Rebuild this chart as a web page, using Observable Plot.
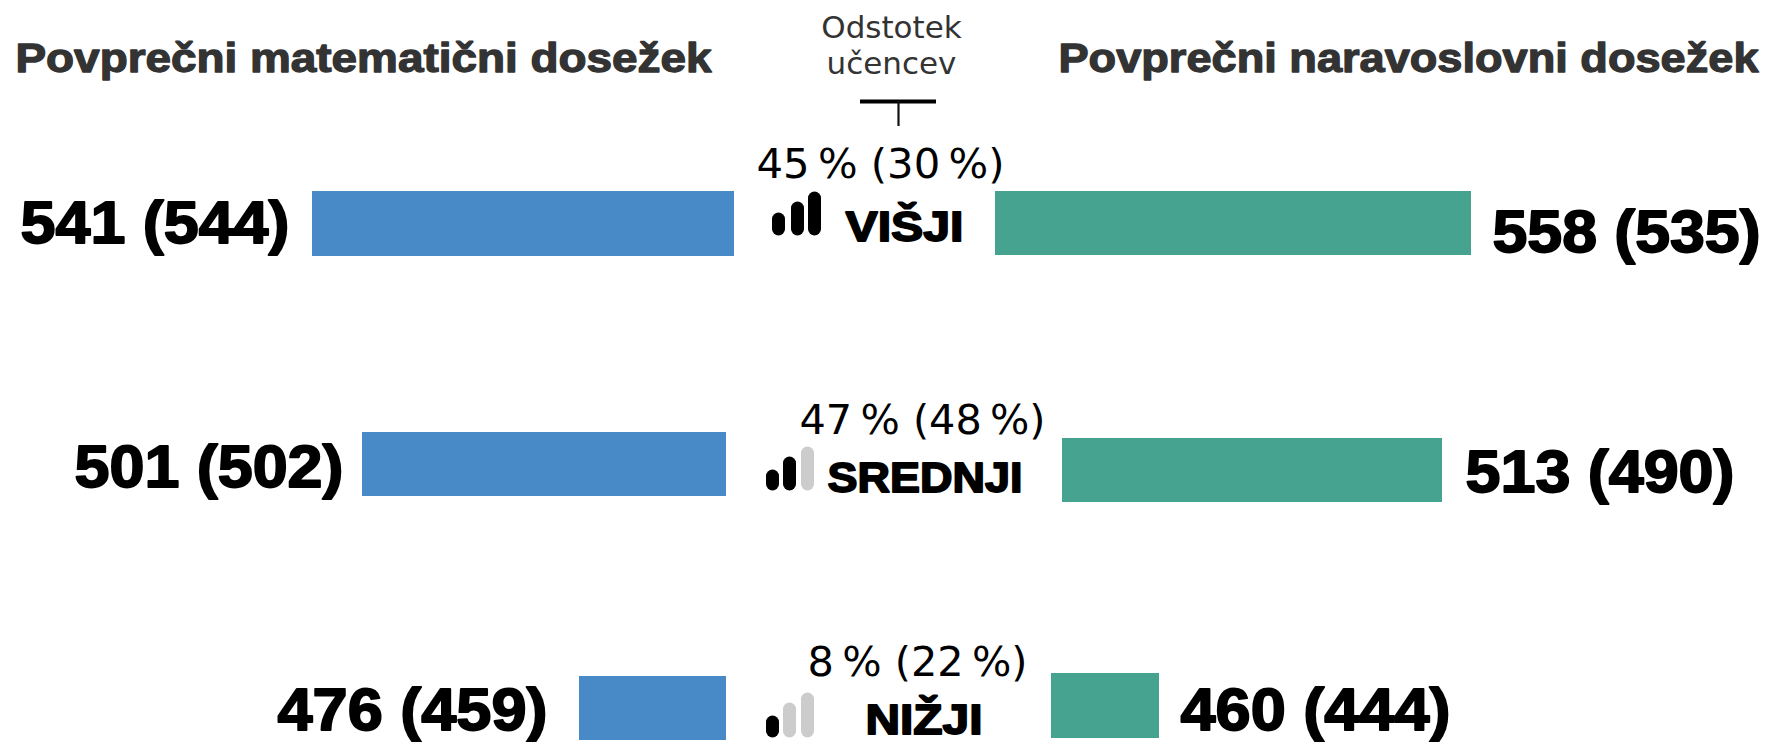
<!DOCTYPE html>
<html>
<head>
<meta charset="utf-8">
<script src="https://cdn.jsdelivr.net/npm/d3@7"></script>
<script src="https://cdn.jsdelivr.net/npm/@observablehq/plot@0.6"></script>
<style>
html,body{margin:0;padding:0;background:#fff}
svg{display:block}
</style>
</head>
<body>
<div id="chart"></div>
<script>
const levels = ["VIŠJI", "SREDNJI", "NIŽJI"];
const mathScore = [541, 501, 476];
const mathScorePrev = [544, 502, 459];
const scienceScore = [558, 513, 460];
const scienceScorePrev = [535, 490, 444];
const share = [45, 47, 8];
const sharePrev = [30, 48, 22];
const filledIconBars = [3, 2, 1];
const mathTitle = "Povprečni matematični dosežek";
const scienceTitle = "Povprečni naravoslovni dosežek";
const shareTitle = ["Odstotek", "učencev"];

// Bar extents (the infographic's bars are not proportional to the scores)
const mathBarFrom = [312, 362, 579];
const mathBarTo = [734, 726, 726];
const mathBarTop = [191, 432, 676];
const mathBarBottom = [256, 496, 740];
const scienceBarFrom = [995, 1062, 1051];
const scienceBarTo = [1471, 1442, 1159];
const scienceBarTop = [191, 438, 673];
const scienceBarBottom = [255, 502, 738];

// Layout
const W = 1769, H = 742;
const BLUE = "#4889c7", GREEN = "#46a38f", INK = "#000", DARK = "#333", OFF = "#cccccc";
const T = "\u2009";
const rows = levels.map((level, i) => ({
  level,
  mathLabel: `${mathScore[i]} (${mathScorePrev[i]})`,
  sciLabel: `${scienceScore[i]} (${scienceScorePrev[i]})`,
  shareLabel: `${share[i]}${T}% (${sharePrev[i]}${T}%)`,
  filled: filledIconBars[i],
  mx1: mathBarFrom[i], mx2: mathBarTo[i], my1: mathBarTop[i], my2: mathBarBottom[i],
  sx1: scienceBarFrom[i], sx2: scienceBarTo[i], sy1: scienceBarTop[i], sy2: scienceBarBottom[i],
  mathX: [20, 74, 277][i], mathY: [242, 486, 729][i], mathW: [269, 269, 270][i],
  sciX: [1492, 1465, 1180][i], sciY: [251, 491, 729][i], sciW: [268, 269, 270][i],
  shareX: [756, 799, 807][i], shareY: [177, 433, 675][i], shareW: [248, 246, 220][i],
  levelX: [845, 827, 865][i], levelY: [240, 491, 733][i], levelW: [118, 195, 117][i],
  iconX: [[778, 797, 814], [772, 789, 807], [772, 789, 807]][i],
  iconTop: [[213, 202, 192], [470, 457, 447], [716, 703, 693]][i],
  iconBottom: [235, 490, 737][i]
}));
const iconBars = rows.flatMap(r => r.iconX.map((x, k) => ({
  x, top: r.iconTop[k] + 6, bottom: r.iconBottom - 6, on: k < r.filled
})));

const boldFont = "Liberation Sans";
const bigText = (x, y, text, w, size, fill, stroke) => Plot.text(rows, {
  x, y, text, fontFamily: boldFont, fontWeight: 700, fontSize: size, fill,
  stroke, strokeWidth: 1.8, textAnchor: "start", lineAnchor: "bottom"
});

const chart = Plot.plot({
  width: W, height: H, margin: 0,
  x: {domain: [0, W], range: [0, W], axis: null},
  y: {domain: [0, H], range: [0, H], axis: null},
  style: {background: "#fff"},
  marks: [
    Plot.rect(rows, {x1: "mx1", x2: "mx2", y1: "my1", y2: "my2", fill: BLUE}),
    Plot.rect(rows, {x1: "sx1", x2: "sx2", y1: "sy1", y2: "sy2", fill: GREEN}),
    Plot.ruleX(iconBars, {x: "x", y1: "top", y2: "bottom", stroke: d => d.on ? INK : OFF, strokeWidth: 13, strokeLinecap: "round"}),
    bigText("mathX", "mathY", "mathLabel", "mathW", 59, INK, INK),
    bigText("sciX", "sciY", "sciLabel", "sciW", 59, INK, INK),
    bigText("levelX", "levelY", "level", "levelW", 43, INK, INK),
    Plot.text(rows, {x: "shareX", y: "shareY", text: "shareLabel", fontFamily: "DejaVu Sans", fontSize: 41, fill: "#000", textAnchor: "start", lineAnchor: "bottom"}),
    Plot.text([mathTitle], {x: [15], y: [71], text: d => d, fontFamily: boldFont, fontWeight: 700, fontSize: 41, fill: DARK, stroke: DARK, strokeWidth: 1.3, textAnchor: "start", lineAnchor: "bottom"}),
    Plot.text([scienceTitle], {x: [1058], y: [71], text: d => d, fontFamily: boldFont, fontWeight: 700, fontSize: 41, fill: DARK, stroke: DARK, strokeWidth: 1.3, textAnchor: "start", lineAnchor: "bottom"}),
    Plot.text(shareTitle, {x: [891, 891], y: [37, 73], text: d => d, fontFamily: "DejaVu Sans", fontSize: 31, fill: DARK, textAnchor: "middle", lineAnchor: "bottom"}),
    Plot.ruleY([101], {x1: 860, x2: 936, stroke: INK, strokeWidth: 4}),
    Plot.ruleX([898], {y1: 101, y2: 126, stroke: "#111", strokeWidth: 2.2})
  ]
});
document.getElementById("chart").append(chart);

// Stretch the display texts to the reference's widths
const widths = new Map([
  [mathTitle, 696], [scienceTitle, 700],
  ...rows.flatMap(r => [[r.mathLabel, r.mathW], [r.sciLabel, r.sciW], [r.level, r.levelW], [r.shareLabel, r.shareW]])
]);
d3.select(chart).selectAll("text").each(function () {
  const w = widths.get(this.textContent);
  if (w) { this.setAttribute("textLength", w); this.setAttribute("lengthAdjust", "spacingAndGlyphs"); }
});
</script>
</body>
</html>
